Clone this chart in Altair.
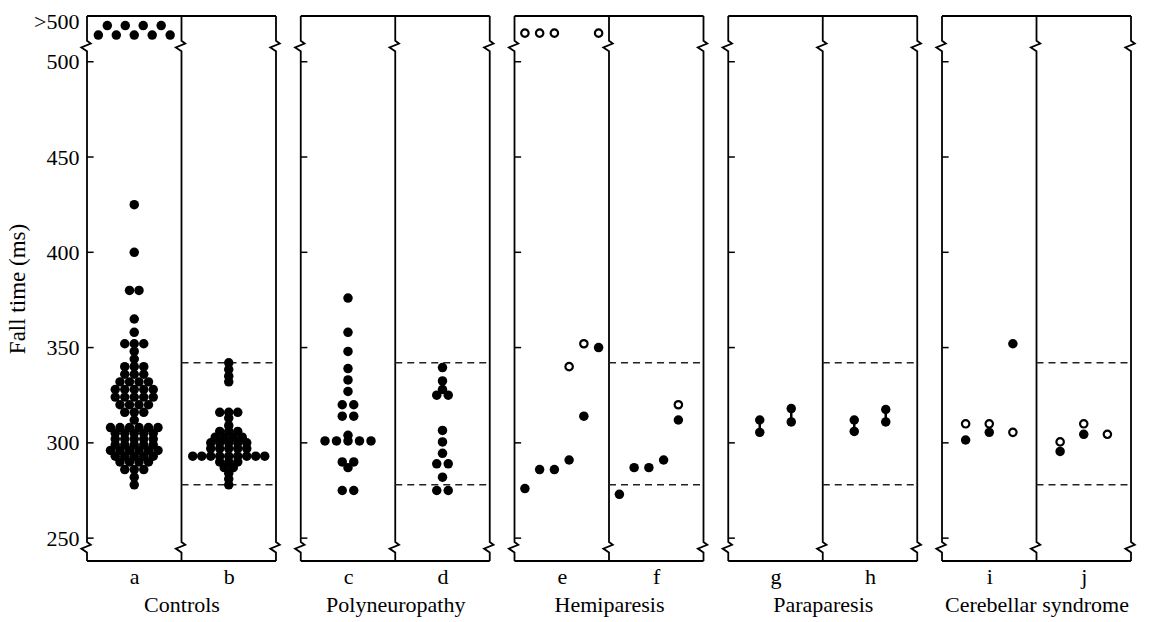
import math
import altair as alt
import pandas as pd

# ---------------- data ----------------
groups = ["Controls", "Polyneuropathy", "Hemiparesis", "Paraparesis", "Cerebellar syndrome"]
column_letters = ["a", "b", "c", "d", "e", "f", "g", "h", "i", "j"]

y_tick_values = [250, 300, 350, 400, 450, 500]
normal_range = [278, 342]          # dashed reference lines in right-hand columns

# controls (a, b) - fall times in ms
a_values = [425, 400, 380, 380, 365, 358, 352, 352, 352, 348, 344,
            340, 340, 340, 336, 336, 336, 332, 332, 332, 332,
            328, 328, 328, 328, 328, 324, 324, 324, 324, 324,
            320, 320, 320, 320, 316, 316, 316, 312,
            308, 308, 308, 308, 308, 308, 305, 305, 305, 305, 305,
            302, 302, 302, 302, 302, 299, 299, 299, 299, 299,
            296, 296, 296, 296, 296, 296, 293, 293, 293, 293, 293,
            290, 290, 290, 290, 286, 286, 286, 282, 278]
a_over_500 = 9
b_values = [342, 338.5, 335, 332, 316, 316, 316, 313, 309,
            306, 306, 306, 303, 303, 303, 303, 300, 300, 300, 300, 300,
            297, 297, 297, 297, 297,
            293, 293, 293, 293, 293, 293, 293, 293, 293,
            290, 290, 290, 287, 287, 284, 281, 278]
# polyneuropathy (c, d)
c_values = [376, 358, 348, 339, 333, 327, 320, 320, 314, 314, 304,
            301, 301, 301, 301, 301, 290, 290, 287, 275, 275]
d_values = [339.5, 332.5, 328, 325, 325, 306.5, 300.5, 294.5,
            289, 289, 282, 275, 275]
# hemiparesis (e, f) per patient; None = not measured, ">500" = above 500 ms
e_filled = [276, 286, 286, 291, 314, 350]
e_open = [">500", ">500", ">500", 340, 352, ">500"]
f_filled = [273, 287, 287, 291, 312]
f_open = [None, None, None, None, 320]
# paraparesis (g, h) per patient: two filled values each
g_high = [312, 318]
g_low = [305.5, 311]
h_high = [312, 317.5]
h_low = [306, 311]
# cerebellar syndrome (i, j) per patient
i_open = [310, 310, 305.5]
i_filled = [301.5, 305.5, 352]
j_open = [300.5, 310, 304.5]
j_filled = [295.5, 304.5, None]

# ---------------- layout constants ----------------
FONT = "Liberation Serif"
Y_DOMAIN = [238, 524]
STEP = 2.262                      # panel step in column units (2 columns + gap)
X_DOMAIN = [0, 4 * STEP + 2]
PLOT_W = 1044
PLOT_H = 545
PX_X = PLOT_W / (X_DOMAIN[1] - X_DOMAIN[0])
PX_Y = PLOT_H / (Y_DOMAIN[1] - Y_DOMAIN[0])
OVER_500_PLOT = 515               # where ">500" values are drawn
OVER_500_LABEL = 521


def dodge(values, center, sp, dy_min=5.3):
    """Beeswarm with rectangular collision; ties are laid out as centred rows."""
    placed = []
    out = [None] * len(values)
    order = sorted(range(len(values)), key=lambda k: values[k])
    idx = 0
    while idx < len(order):
        grp = [order[idx]]
        while idx + len(grp) < len(order) and values[order[idx + len(grp)]] == values[grp[0]]:
            grp.append(order[idx + len(grp)])
        y = values[grp[0]] * PX_Y
        k = len(grp)
        row = [(j - (k - 1) / 2.0) * sp for j in range(k)]
        ok = all(not (abs(py - y) < dy_min and abs(px - r) < sp - 1e-6) for r in row for (px, py) in placed)
        if ok:
            for gi, r in zip(grp, row):
                placed.append((r, y))
                out[gi] = center + r / PX_X
        else:
            for gi in grp:
                ivs = [(px - sp, px + sp) for (px, py) in placed if abs(py - y) < dy_min]
                cands = [0.0] + [e for iv in ivs for e in iv]
                cands.sort(key=lambda c: (round(abs(c), 6), c))
                chosen = 0.0
                for c in cands:
                    if all(not (lo + 1e-6 < c < hi - 1e-6) for lo, hi in ivs):
                        chosen = c
                        break
                placed.append((chosen, y))
                out[gi] = center + chosen / PX_X
        idx += k
    return out


def pts_swarm(values, center, kind, sp):
    xs = dodge(values, center, sp)
    return [{"x": x, "y": v, "kind": kind} for x, v in zip(xs, values)]


def patient_x(n, i, col_left):
    if n >= 5:
        return col_left + 0.11 + 0.156 * i
    return col_left + (i + 1) / (n + 1.0)


def pts_patients(vals, col_left, n, kind):
    out = []
    for i, v in enumerate(vals):
        if v is None:
            continue
        yv = OVER_500_PLOT if v == ">500" else v
        out.append({"x": patient_x(n, i, col_left), "y": yv, "kind": kind})
    return out


offs = [p * STEP for p in range(5)]
points = []
points += pts_swarm(a_values, offs[0] + 0.5, "filled", 9.5) + pts_swarm(b_values, offs[0] + 1.5, "filled", 9.0)
for i in range(a_over_500):
    points.append({"x": offs[0] + 0.5 + (i - (a_over_500 - 1) / 2.0) * 0.095,
                   "y": OVER_500_PLOT - 1 if i % 2 == 0 else OVER_500_PLOT + 4, "kind": "filled"})
points += pts_swarm(c_values, offs[1] + 0.5, "filled", 11.5) + pts_swarm(d_values, offs[1] + 1.5, "filled", 11.5)
points += (pts_patients(e_filled, offs[2], 6, "filled") + pts_patients(e_open, offs[2], 6, "open")
           + pts_patients(f_filled, offs[2] + 1, 6, "filled") + pts_patients(f_open, offs[2] + 1, 6, "open"))
points += (pts_patients(g_high, offs[3], 2, "filled") + pts_patients(g_low, offs[3], 2, "filled")
           + pts_patients(h_high, offs[3] + 1, 2, "filled") + pts_patients(h_low, offs[3] + 1, 2, "filled"))
points += (pts_patients(i_open, offs[4], 3, "open") + pts_patients(i_filled, offs[4], 3, "filled")
           + pts_patients(j_open, offs[4] + 1, 3, "open") + pts_patients(j_filled, offs[4] + 1, 3, "filled"))
pts_df = pd.DataFrame(points)

conn_rows = ([{"x": patient_x(2, i, offs[3]), "y": lo, "y2": hi} for i, (lo, hi) in enumerate(zip(g_low, g_high))]
             + [{"x": patient_x(2, i, offs[3] + 1), "y": lo, "y2": hi} for i, (lo, hi) in enumerate(zip(h_low, h_high))])
conn_df = pd.DataFrame(conn_rows)

# frames with axis-break zigzags
frame_rows = []
for p, off in enumerate(offs):
    for lid, xc in enumerate([off, off + 1, off + 2]):
        seq = [(xc, Y_DOMAIN[1]), (xc, 511), (xc + 0.04, 509.5), (xc - 0.06, 507.5), (xc, 505.5),
               (xc, 248), (xc + 0.04, 246.5), (xc - 0.06, 244.5), (xc, 242.5), (xc, Y_DOMAIN[0])]
        for k, (xx, yy) in enumerate(seq):
            frame_rows.append({"line": f"p{p}v{lid}", "k": k, "x": xx, "y": yy})
    for lid, yy in [("top", Y_DOMAIN[1]), ("bottom", Y_DOMAIN[0])]:
        frame_rows.append({"line": f"p{p}{lid}", "k": 0, "x": off, "y": yy})
        frame_rows.append({"line": f"p{p}{lid}", "k": 1, "x": off + 2, "y": yy})
frame_df = pd.DataFrame(frame_rows)

tick_df = pd.DataFrame([{"x": off, "x2": off + 0.07, "y": v} for off in offs for v in y_tick_values])
dash_df = pd.DataFrame([{"x": off + 1, "x2": off + 2, "y": v} for off in offs for v in normal_range])

# ---------------- encodings ----------------
letter_vals = []
for p, off in enumerate(offs):
    letter_vals += [off + 0.5, off + 1.5]
letter_expr = "".join(f"datum.value < {v + 0.5:.4f} ? '{column_letters[i]}' : " for i, v in enumerate(letter_vals[:-1])) + f"'{column_letters[-1]}'"
group_vals = [off + 1 for off in offs]
group_expr = "".join(f"datum.value < {v + 1:.4f} ? '{groups[i]}' : " for i, v in enumerate(group_vals[:-1])) + f"'{groups[-1]}'"

xscale = alt.Scale(domain=X_DOMAIN, nice=False, zero=False)
yscale = alt.Scale(domain=Y_DOMAIN, nice=False, zero=False)

letter_axis = alt.Axis(values=letter_vals, labelExpr=letter_expr, orient="bottom", title=None,
                       domain=False, ticks=False, grid=False, labelOverlap=False, labelFlush=False,
                       labelFontSize=22, labelPadding=5, labelFont=FONT, labelColor="black",
                       labelLimit=400)
group_axis = alt.Axis(values=group_vals, labelExpr=group_expr, orient="bottom", title=None,
                      domain=False, ticks=False, grid=False, labelOverlap=False, labelFlush=False,
                      labelFontSize=22, labelPadding=33, labelFont=FONT, labelColor="black",
                      labelLimit=400)
y_axis = alt.Axis(values=y_tick_values + [OVER_500_LABEL],
                  labelExpr="datum.value > 510 ? '>500' : datum.label",
                  title="Fall time (ms)", domain=False, ticks=False, grid=False,
                  labelFontSize=22, labelPadding=8, titleFontSize=23,
                  titleFontWeight="normal", titlePadding=4,
                  labelFont=FONT, titleFont=FONT, labelColor="black", titleColor="black")


def X(axis=None):
    if axis is None:
        return alt.X("x:Q", scale=xscale, axis=None)
    return alt.X("x:Q", scale=xscale, axis=axis)


def Y():
    return alt.Y("y:Q", scale=yscale, axis=y_axis)


frame = alt.Chart(frame_df).mark_line(color="black", strokeWidth=1.8).encode(
    x=X(letter_axis), y=Y(), detail="line:N", order="k:Q")
ticks = alt.Chart(tick_df).mark_rule(color="black", strokeWidth=1.5).encode(
    x=X(group_axis), x2="x2:Q", y=Y())
dashes = alt.Chart(dash_df).mark_rule(color="#222", strokeWidth=1.6, strokeDash=[7, 5]).encode(
    x=X(), x2="x2:Q", y=Y())
conns = alt.Chart(conn_df).mark_rule(color="black", strokeWidth=2.5).encode(
    x=X(), y=Y(), y2="y2:Q")
filled = alt.Chart(pts_df).transform_filter("datum.kind == 'filled'").mark_circle(
    size=90, color="black", opacity=1).encode(x=X(), y=Y())
opened = alt.Chart(pts_df).transform_filter("datum.kind == 'open'").mark_point(
    shape="circle", size=55, fill="white", fillOpacity=1, stroke="black", strokeWidth=2.2, opacity=1).encode(
    x=X(), y=Y())

chart = alt.layer(frame, ticks, dashes, conns, filled, opened).resolve_axis(x="independent").properties(
    width=PLOT_W, height=PLOT_H,
    padding={"left": 6, "top": 10, "right": 5, "bottom": 2},
    background="white",
).configure_view(strokeOpacity=0)

chart.save("out.html", embed_options={"renderer": "svg", "actions": False})
